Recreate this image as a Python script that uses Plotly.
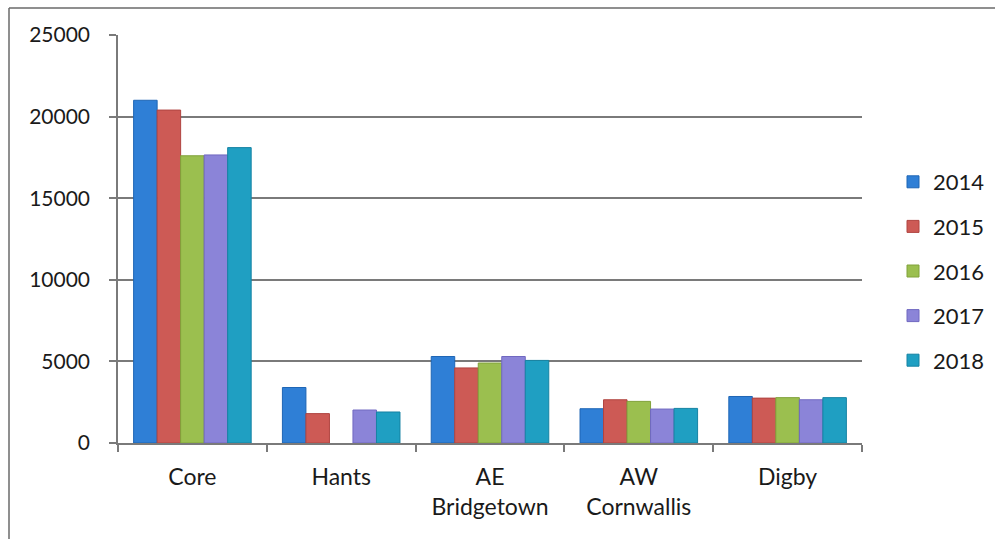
import plotly.graph_objects as go

# Categories (x axis) and yearly series
categories = ["Core", "Hants", "AE<br>Bridgetown", "AW<br>Cornwallis", "Digby"]
years = ["2014", "2015", "2016", "2017", "2018"]

values_2014 = [21000, 3400, 5300, 2100, 2850]
values_2015 = [20400, 1800, 4600, 2650, 2750]
values_2016 = [17600, None, 4900, 2550, 2780]
values_2017 = [17650, 2020, 5300, 2080, 2650]
values_2018 = [18100, 1900, 5060, 2120, 2780]

series = [values_2014, values_2015, values_2016, values_2017, values_2018]
fills = ["#2f7fd6", "#cd5a55", "#9bbf4f", "#8b84d8", "#1f9fc2"]
edges = ["#1f66b5", "#b04440", "#80a23a", "#7068c0", "#1683a3"]

y_ticks = [0, 5000, 10000, 15000, 20000, 25000]
y_labels = ["0", "5000", "10000", "15000", "20000", "25000"]

FONT = "Lato, Liberation Sans, sans-serif"
AXIS_GREY = "#7a7a7a"

fig = go.Figure()
for year, vals, fc, ec in zip(years, series, fills, edges):
    fig.add_trace(go.Bar(
        x=categories, y=vals, name=year, legendgroup=year,
        marker=dict(color=fc, line=dict(color=ec, width=1)),
    ))

# Plot-area geometry in pixels, used to place the outer frame
L, R, T, B = 118, 862, 35, 443
W, H = 995, 539


def px_x(p):
    return (p - L) / (R - L)


def px_y(p):
    return (B - p) / (B - T)


frame = dict(color="#6a6a6a", width=1.5)
shapes = [
    dict(type="line", xref="paper", yref="paper",
         x0=px_x(9), x1=px_x(W + 5), y0=px_y(8), y1=px_y(8), line=frame),
    dict(type="line", xref="paper", yref="paper",
         x0=px_x(9), x1=px_x(9), y0=px_y(8), y1=px_y(H + 5), line=frame),
]

fig.update_layout(
    width=W, height=H,
    margin=dict(l=L, r=W - R, t=T, b=H - B, autoexpand=False),
    paper_bgcolor="white", plot_bgcolor="white",
    barmode="group", bargap=0.21, bargroupgap=0,
    font=dict(family=FONT, size=22, color="#1a1a1a"),
    showlegend=True,
    legend=dict(
        x=px_x(893), y=px_y(161), xanchor="left", yanchor="top",
        font=dict(size=22, family=FONT, color="#1a1a1a"),
        tracegroupgap=13, itemwidth=30, bgcolor="rgba(0,0,0,0)",
    ),
    shapes=shapes,
    xaxis=dict(
        type="category", showgrid=False, showline=True, linecolor=AXIS_GREY,
        linewidth=1.5, ticks="outside", tickson="boundaries", ticklen=7,
        tickcolor=AXIS_GREY, tickwidth=1.5, ticklabelstandoff=13,
        tickfont=dict(size=23, family=FONT),
    ),
    yaxis=dict(
        range=[0, 25000], tickvals=y_ticks, ticktext=y_labels,
        showgrid=True, gridcolor=AXIS_GREY,
        gridwidth=1.5, showline=True, linecolor=AXIS_GREY, linewidth=1.5,
        ticks="outside", ticklen=7, tickcolor=AXIS_GREY, tickwidth=1.5,
        ticklabelstandoff=15, zeroline=False,
        tickfont=dict(size=21, family=FONT),
    ),
)

fig.write_html("out.html")
